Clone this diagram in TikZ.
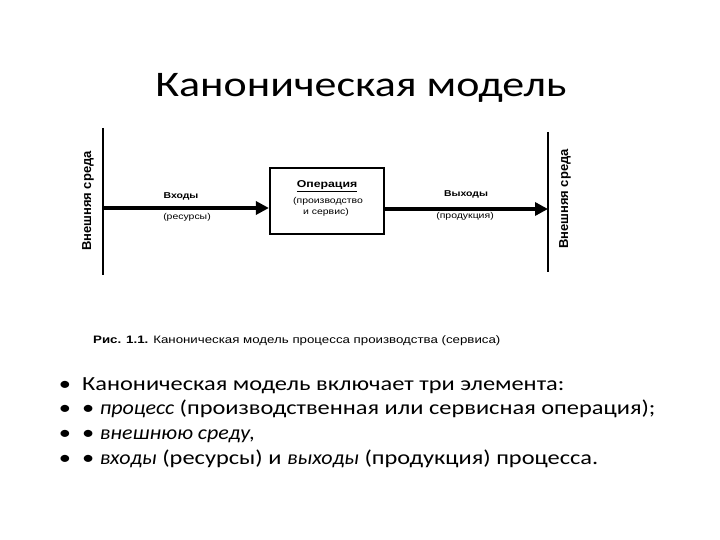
\documentclass[tikz,border=0pt]{standalone}
\usepackage{fontspec}
\setmainfont{Carlito}[UprightFeatures={FakeStretch=1.22}, BoldFeatures={FakeStretch=1.22}, ItalicFeatures={FakeStretch=1.1}]
\newfontfamily\arialf{Liberation Sans}[FakeStretch=1.23]
\newfontfamily\arialn{Liberation Sans}
\usetikzlibrary{arrows.meta}
\begin{document}
\begin{tikzpicture}[x=1pt,y=-1pt,
  dlabel/.style={font=\arialf\fontsize{8.5}{10}\selectfont\bfseries, inner sep=0pt},
  dsub/.style={font=\arialf\fontsize{8.5}{10}\selectfont, inner sep=0pt},
  envlabel/.style={font=\arialn\fontsize{13}{15}\selectfont\bfseries, inner sep=0pt, rotate=90},
  envline/.style={line width=2.6pt},
  flow/.style={line width=3.5pt, -{Triangle[length=13pt,width=13pt]}},
  opbox/.style={draw, line width=2.2pt, minimum width=114pt, minimum height=66pt, inner sep=0pt},
  bullet/.style={font=\fontsize{20}{24}\selectfont, anchor=base west, inner sep=0pt}
]
\useasboundingbox (0,0) rectangle (720,540);
% title
\node[font=\fontsize{36}{42}\selectfont, anchor=base, inner sep=0pt] (title) at (361,97) {Каноническая модель};
% environment lines
\coordinate (l1) at (103,128);
\coordinate (l2) at (103,275);
\coordinate (r1) at (548,132);
\coordinate (r2) at (548,272);
\draw[envline] (l1) -- (l2);
\draw[envline] (r1) -- (r2);
\node[envlabel] (envl) at (88,201) {Внешняя среда};
\node[envlabel] (envr) at (565,199) {Внешняя среда};
% operation box
\node[opbox] (op) at (327,201) {};
\node[font=\arialf\fontsize{10}{12}\selectfont\bfseries, inner sep=0pt] (optitle) at (327,186) {\underline{Операция}};
\node[dsub] (opsub1) at (328,201) {(производство};
\node[dsub] (opsub2) at (326,212) {и сервис)};
% arrows
\coordinate (inl) at (103,208);
\coordinate (outr) at (548,209);
\draw[flow] (inl) -- (inl -| op.west);
\draw[flow] (op.east |- outr) -- (outr);
\node[dlabel] (in) at (181,196) {Входы};
\node[dsub] (insub) at (187,217) {(ресурсы)};
\node[dlabel] (out) at (466,194) {Выходы};
\node[dsub] (outsub) at (465,216) {(продукция)};
% caption
\node[font=\arialf\fontsize{10.8}{13}\selectfont, anchor=base west, inner sep=0pt] (cap) at (93,343) {\textbf{Рис. 1.1.} Каноническая модель процесса производства (сервиса)};
% bullets
\foreach \y/\n in {390/b1,414/b2,439/b3,464/b4}{
  \node[font=\fontsize{20}{24}\selectfont, anchor=base, inner sep=0pt] (\n) at (65,\y) {•};
}
\node[bullet] (t1) at (82,390) {Каноническая модель включает три элемента:};
\node[bullet] (t2) at (82,414) {• \textit{процесс} (производственная или сервисная операция);};
\node[bullet] (t3) at (82,439) {• \textit{внешнюю среду,}};
\node[bullet] (t4) at (82,464) {• \textit{входы} (ресурсы) и \textit{выходы} (продукция) процесса.};
\end{tikzpicture}
\end{document}
